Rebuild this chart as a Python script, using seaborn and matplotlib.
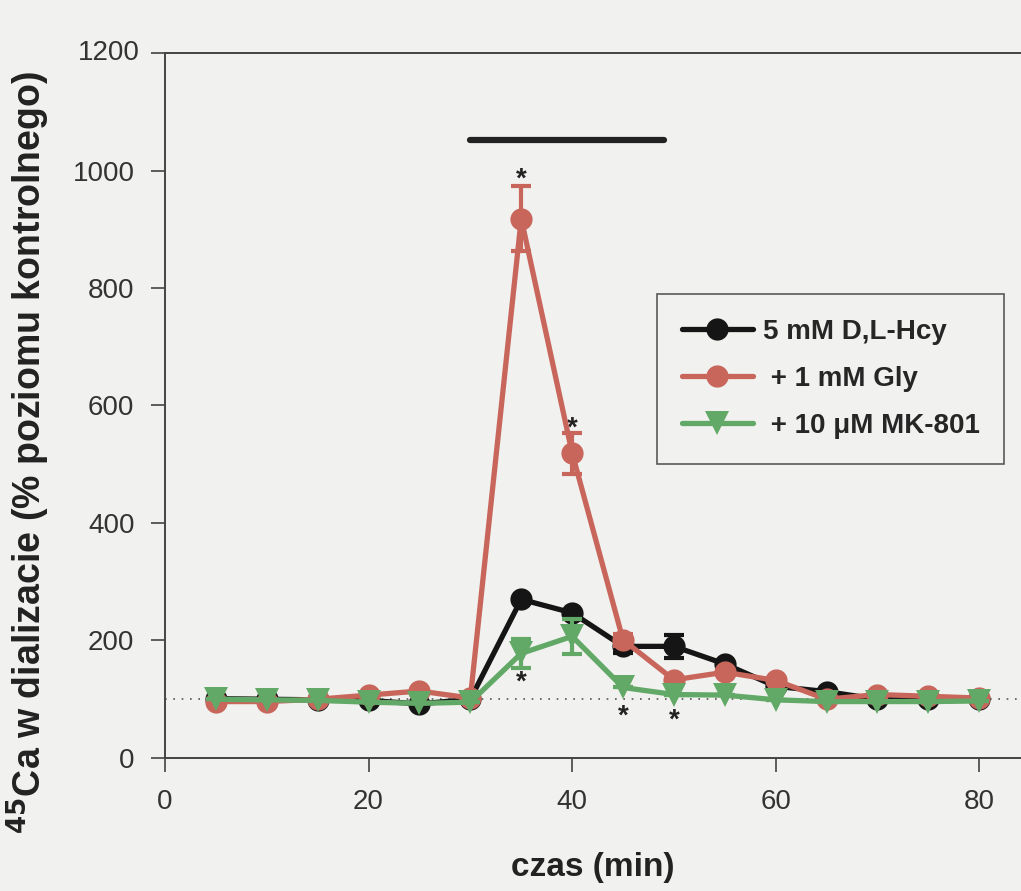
import matplotlib
matplotlib.use("Agg")
import matplotlib.pyplot as plt
import seaborn as sns
import numpy as np
import pandas as pd

time = [5, 10, 15, 20, 25, 30, 35, 40, 45, 50, 55, 60, 65, 70, 75, 80]
hcy = [101, 100, 99, 98, 92, 100, 270, 247, 190, 190, 160, 122, 113, 100, 100, 100]
hcy_err = [0, 0, 0, 0, 0, 0, 0, 0, 12, 20, 0, 0, 0, 0, 0, 0]
gly = [96, 96, 100, 107, 114, 102, 918, 519, 201, 133, 146, 132, 100, 108, 105, 102]
gly_err = [0, 0, 0, 0, 0, 0, 55, 35, 10, 0, 0, 0, 0, 0, 0, 0]
mk = [100, 99, 98, 95, 93, 95, 178, 207, 120, 108, 107, 99, 96, 96, 96, 97]
mk_err = [0, 0, 0, 0, 0, 0, 25, 30, 0, 0, 0, 0, 0, 0, 0, 0]

series_names = ["5 mM D,L-Hcy", " + 1 mM Gly", " + 10 \u03bcM MK-801"]
colors = ["#151515", "#c8665c", "#62a866"]
markers = ["o", "o", "v"]

star_x = [35, 40, 35, 45, 50]
star_y = [985, 560, 128, 70, 63]

bar_x = [30, 49]
bar_y = 1052

sns.set_theme(style="white")
plt.rcParams['font.family'] = ['Liberation Sans', 'DejaVu Sans']

bg = "#f1f1ef"
fig = plt.figure(figsize=(10.21, 8.91), dpi=100, facecolor=bg)
ax = fig.add_axes([0.1616, 0.1493, 0.8384, 0.7912], facecolor=bg)

df = pd.DataFrame({
    "time": time * 3,
    "value": hcy + gly + mk,
    "series": [series_names[0]] * len(time) + [series_names[1]] * len(time) + [series_names[2]] * len(time),
})

ax.axhline(100, color="#555555", lw=1.2, ls=(0, (1, 4)), zorder=1)

errs = [hcy_err, gly_err, mk_err]
vals = [hcy, gly, mk]
for i, name in enumerate(series_names):
    sub = df[df["series"] == name]
    ax.errorbar(time, vals[i], yerr=errs[i], fmt="none", ecolor=colors[i],
                elinewidth=3, capsize=7, capthick=3, zorder=2 + i)
    sns.lineplot(data=sub, x="time", y="value", ax=ax, color=colors[i],
                 marker=markers[i], markersize=16 if markers[i] == "o" else 17,
                 markeredgewidth=0, linewidth=3.8, label=name, zorder=3 + i)

for x, y in zip(star_x, star_y):
    ax.text(x, y, "*", ha="center", va="center", fontsize=20, fontweight="bold", color="#222222")

ax.plot(bar_x, [bar_y, bar_y], color="#222222", lw=4.5, solid_capstyle="round")

ax.set_xlim(0, 84.1)
ax.set_ylim(0, 1200)
ax.set_xticks([0, 20, 40, 60, 80])
ax.set_yticks([0, 200, 400, 600, 800, 1000, 1200])
ax.set_yticklabels(["0", "200", "400", "600", "800", "1000", ""])
ax.tick_params(axis="both", direction="out", length=10, width=1.2, color="#444444",
               labelsize=20, labelcolor="#333333", left=True, bottom=True, pad=12)
for s in ["left", "bottom", "top"]:
    ax.spines[s].set_color("#444444")
    ax.spines[s].set_linewidth(1.4)
ax.spines["right"].set_visible(False)
fig.text(0.137, 0.9405, "1200", ha="right", va="center", fontsize=20, color="#333333")

ax.set_xlabel("czas (min)", fontsize=24, fontweight="bold", color="#222222")
ax.xaxis.set_label_coords(0.5, -0.133)
ax.set_ylabel("$^{\\mathbf{45}}$Ca w dializacie (% poziomu kontrolnego)", fontsize=27,
              fontweight="bold", color="#222222")
ax.yaxis.set_label_coords(-0.132, 0.434)

leg = ax.legend(loc="upper left", bbox_to_anchor=(657 / 1021, 1 - 294 / 891),
                bbox_transform=fig.transFigure, borderaxespad=0,
                frameon=True, fancybox=False,
                edgecolor="#333333", facecolor=bg, handlelength=2.55,
                borderpad=0.9, labelspacing=0.75, handletextpad=0.35,
                prop={"weight": "bold", "size": 20})
leg.get_frame().set_linewidth(1.2)

fig.savefig("out.png", dpi=100, facecolor=bg)
